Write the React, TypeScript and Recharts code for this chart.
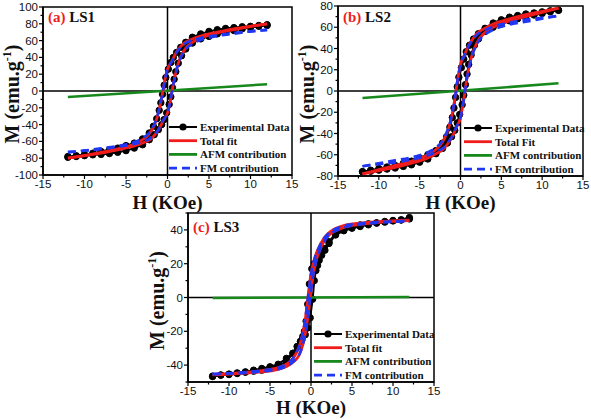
import React from 'react';
import { LineChart, Line, XAxis, YAxis, ReferenceLine, ReferenceArea } from 'recharts';

// field grids (kOe)
const EXP_H_UPPER = [-12, -11, -10, -9, -8, -7, -6, -5, -4, -3, -2.2, -1.7, -1.3, -1.0, -0.8, -0.6, -0.4, -0.2, 0.1, 0.4, 0.7, 1.1, 1.6, 2.2, 3, 4, 5, 6, 7, 8, 9, 10, 11, 12];
const EXP_H_LOWER = [-12, -11, -10, -9, -8, -7, -6, -5, -4, -3, -2.2, -1.6, -1.1, -0.7, -0.4, -0.1, 0.2, 0.4, 0.6, 0.8, 1.0, 1.3, 1.7, 2.2, 3, 4, 5, 6, 7, 8, 9, 10, 11, 12];
const FIT_H_UPPER = [-12, -10, -8, -6, -4, -3, -2.2, -1.7, -1.3, -1, -0.7, -0.5, -0.3, 0, 0.5, 1, 1.5, 2, 3, 4, 6, 8, 10, 12];
const FIT_H_LOWER = [-12, -10, -8, -6, -4, -3, -2, -1.5, -1, -0.5, 0, 0.3, 0.5, 0.7, 1, 1.3, 1.7, 2.2, 3, 4, 6, 8, 10, 12];
const AFM_H = [-12, 12];

// LS1
const LS1_EXP_UPPER = [-78, -77, -75.5, -74, -72, -70, -68, -65, -62, -57, -50, -42, -33, -23, -14, -4, 7, 16, 26, 34, 40, 46, 52, 58, 64, 68, 71, 73, 74.5, 75.5, 76.5, 77, 78, 79];
const LS1_EXP_LOWER = [-79, -78, -77, -76, -75.5, -74.5, -73, -71, -68, -64, -58, -52, -46, -40, -34, -26, -16, -7, 4, 14, 23, 33, 42, 50, 57, 62, 65, 68, 70, 72, 74, 75.5, 77, 78];
const LS1_FIT_UPPER = [-80, -77, -73, -69, -63, -58, -51, -43, -33, -22, -8, 3, 14, 26, 35, 45, 52, 57, 62, 65.5, 70, 74, 77, 80];
const LS1_FIT_LOWER = [-80, -77, -74, -70, -65.5, -62, -57, -52, -45, -35, -26, -14, -3, 8, 22, 33, 43, 51, 58, 63, 69, 73, 77, 80];
const LS1_FM_UPPER = [-72.8, -71, -68.2, -65.4, -60.6, -56.2, -49.7, -42, -32.2, -21.4, -7.6, 3.3, 14.2, 26, 34.7, 44.4, 51.1, 55.8, 60.2, 63.1, 66.4, 69.2, 71, 72.8];
const LS1_FM_LOWER = [-72.8, -71, -69.2, -66.4, -63.1, -60.2, -55.8, -51.1, -44.4, -34.7, -26, -14.2, -3.3, 7.6, 21.4, 32.2, 42, 49.7, 56.2, 60.6, 65.4, 68.2, 71, 72.8];
const LS1_AFM = [-7, 8];

// LS2
const LS2_EXP_UPPER = [-76, -74.5, -73, -71.5, -70, -68, -66, -63, -60, -56, -49, -43, -34, -25, -16, -6, 4, 13, 22, 30, 37, 43, 49, 54, 59, 64, 67, 69.5, 71, 72.5, 73.5, 74.5, 75.5, 76];
const LS2_EXP_LOWER = [-76, -75.5, -74.5, -73.5, -72.5, -71, -69.5, -67, -64, -59, -54, -49, -43, -37, -30, -22, -13, -4, 6, 16, 25, 34, 43, 49, 56, 60, 63, 66, 68, 70, 71.5, 73, 74.5, 76];
const LS2_FIT_UPPER = [-78, -74, -70, -66, -60, -55, -48, -40, -31, -21, -8, 3, 13, 25, 34, 43, 49, 54, 59, 63, 68, 72, 75, 78];
const LS2_FIT_LOWER = [-78, -75, -72, -68, -63, -59, -54, -49, -43, -34, -25, -13, -3, 8, 21, 31, 40, 48, 55, 60, 66, 70, 74, 78];
const LS2_FM_UPPER = [-70.8, -68, -65.2, -62.4, -57.6, -53.2, -46.7, -39, -30.2, -20.4, -7.6, 3.3, 13.2, 25, 33.7, 42.4, 48.1, 52.8, 57.2, 60.6, 64.4, 67.2, 69, 70.8];
const LS2_FM_LOWER = [-70.8, -69, -67.2, -64.4, -60.6, -57.2, -52.8, -48.1, -42.4, -33.7, -25, -13.2, -3.3, 7.6, 20.4, 30.2, 39, 46.7, 53.2, 57.6, 62.4, 65.2, 68, 70.8];
const LS2_AFM = [-6.6, 7.2];

// LS3
const LS3_EXP_UPPER = [-46.5, -45.8, -45.3, -44.6, -44, -43, -42, -41, -39.5, -36, -33, -29, -26, -23, -20, -14, -4, 8, 17, 20, 22, 25, 29, 33, 38, 40.7, 42, 43, 43.6, 44.2, 45, 45.6, 46, 47.3];
const LS3_EXP_LOWER = [-46.8, -46, -45.6, -45, -44.2, -43.6, -43, -42, -40.5, -38, -33, -29, -25, -22, -18, -12, -1, 10, 16, 19, 22, 25, 28, 32, 37, 39.5, 41, 42, 43, 44, 44.6, 45.3, 45.8, 46.5];
const LS3_FIT_UPPER = [-45.5, -45, -44.3, -43.3, -41.5, -39.5, -36, -32, -27, -21, -13, -5, 3, 14, 24, 30, 34.5, 37.5, 40.8, 42.5, 44, 44.8, 45.3, 45.8];
const LS3_FIT_LOWER = [-45.8, -45.3, -44.8, -44, -42.5, -40.8, -37.5, -34.5, -28, -16, 4, 14, 19, 23, 27, 30.5, 34, 37, 39.5, 41.5, 43.3, 44.3, 45, 45.5];
const LS3_FM_UPPER = [-45.2, -44.8, -44.1, -43.2, -41.4, -39.4, -35.9, -31.9, -27, -21, -13, -5, 3, 14, 24, 30, 34.5, 37.4, 40.7, 42.4, 43.8, 44.6, 45, 45.5];
const LS3_FM_LOWER = [-45.5, -45, -44.6, -43.8, -42.4, -40.7, -37.4, -34.5, -28, -16, 4, 14, 19, 23, 27, 30.5, 33.9, 36.9, 39.4, 41.4, 43.2, 44.1, 44.8, 45.2];
const LS3_AFM = [-0.3, 0.3];

const X_TICKS = [-15, -12.5, -10, -7.5, -5, -2.5, 0, 2.5, 5, 7.5, 10, 12.5, 15];
const Y_TICKS_100 = [-100, -90, -80, -70, -60, -50, -40, -30, -20, -10, 0, 10, 20, 30, 40, 50, 60, 70, 80, 90, 100];
const Y_TICKS_80 = [-80, -70, -60, -50, -40, -30, -20, -10, 0, 10, 20, 30, 40, 50, 60, 70, 80];
const Y_TICKS_50 = [-50, -40, -30, -20, -10, 0, 10, 20, 30, 40, 50];

const RED = '#f01c1c';
const BLUE = '#1f36f5';
const GREEN = '#17891c';
const SERIF = '"Liberation Serif", "Times New Roman", serif';
const SANS = '"Liberation Sans", Arial, sans-serif';

const zip = (h: number[], m: number[]) => h.map((v, i) => ({ h: v, m: m[i] }));

const XTick = (props: any) => {
  const { x, y, payload } = props;
  const major = payload.value % 5 === 0;
  const axisY = y - 6;
  return (
    <g>
      <line x1={x} x2={x} y1={axisY} y2={axisY + (major ? 4 : 2.5)} stroke="#000" strokeWidth={1.2} />
      {major && (
        <text x={x} y={axisY + 13} textAnchor="middle" fontFamily={SANS} fontSize={11.5} fill="#111">
          {payload.value}
        </text>
      )}
    </g>
  );
};

const makeYTick = (step: number) => (props: any) => {
  const { x, y, payload } = props;
  const major = payload.value % step === 0;
  const axisX = x + 6;
  return (
    <g>
      <line x1={axisX} x2={axisX - (major ? 4 : 2.5)} y1={y} y2={y} stroke="#000" strokeWidth={1.2} />
      {major && (
        <text x={axisX - 5} y={y + 4} textAnchor="end" fontFamily={SANS} fontSize={11.5} fill="#111">
          {payload.value}
        </text>
      )}
    </g>
  );
};

interface PanelProps {
  left: number;
  top: number;
  width: number;
  height: number;
  plot: { l: number; t: number; w: number; h: number };
  letter: string;
  name: string;
  fitName: string;
  yDomain: [number, number];
  yTicks: number[];
  yStep: number;
  titleY: number;
  expUpper: number[];
  expLower: number[];
  fitUpper: number[];
  fitLower: number[];
  fmUpper: number[];
  fmLower: number[];
  afm: number[];
}

const Panel: React.FC<PanelProps> = (p) => {
  const xAxisH = 30;
  const margin = {
    top: p.plot.t,
    left: 0,
    right: p.width - p.plot.l - p.plot.w,
    bottom: p.height - p.plot.t - p.plot.h - xAxisH,
  };
  // overlay chart: same plot box, hidden axes, so the fits sit above the data dots
  const overMargin = {
    top: p.plot.t,
    left: p.plot.l,
    right: p.width - p.plot.l - p.plot.w,
    bottom: p.height - p.plot.t - p.plot.h,
  };
  const cx = p.plot.l + p.plot.w / 2;
  const cy = p.plot.t + p.plot.h / 2 + 3;
  const legendRows = [
    { label: 'Experimental Data', color: '#000', dash: undefined as string | undefined, dot: true },
    { label: p.fitName, color: RED, dash: undefined, dot: false },
    { label: 'AFM contribution', color: GREEN, dash: undefined, dot: false },
    { label: 'FM contribution', color: BLUE, dash: '8 5', dot: false },
  ];
  const legendX = 169;
  const legendY0 = p.plot.t + p.plot.h - 48;

  return (
    <div style={{ position: 'absolute', left: p.left, top: p.top, width: p.width, height: p.height }}>
      <LineChart width={p.width} height={p.height} margin={margin}>
        <XAxis
          dataKey="h"
          type="number"
          domain={[-15, 15]}
          ticks={X_TICKS}
          interval={0}
          allowDataOverflow
          height={xAxisH}
          tickSize={4}
          tickMargin={2}
          tickLine={false}
          axisLine={{ stroke: '#000', strokeWidth: 1.5 }}
          tick={<XTick />}
        />
        <YAxis
          type="number"
          domain={p.yDomain}
          ticks={p.yTicks}
          interval={0}
          allowDataOverflow
          width={p.plot.l}
          tickSize={4}
          tickMargin={2}
          tickLine={false}
          axisLine={{ stroke: '#000', strokeWidth: 1.5 }}
          tick={makeYTick(p.yStep)}
        />
        <ReferenceArea x1={-15} x2={15} y1={p.yDomain[0]} y2={p.yDomain[1]} fill="none" stroke="#000" strokeWidth={1.5} />
        <ReferenceLine x={0} stroke="#000" strokeWidth={1.5} />
        <ReferenceLine y={0} stroke="#000" strokeWidth={1.5} />
        <Line data={zip(EXP_H_UPPER, p.expUpper)} dataKey="m" type="linear" stroke="#000" strokeWidth={2}
          dot={{ r: 3.2, fill: '#000', stroke: '#000', strokeWidth: 1 }} isAnimationActive={false} />
        <Line data={zip(EXP_H_LOWER, p.expLower)} dataKey="m" type="linear" stroke="#000" strokeWidth={2}
          dot={{ r: 3.2, fill: '#000', stroke: '#000', strokeWidth: 1 }} isAnimationActive={false} />
      </LineChart>
      <div style={{ position: 'absolute', left: 0, top: 0 }}>
        <LineChart width={p.width} height={p.height} margin={overMargin}>
          <XAxis dataKey="h" type="number" domain={[-15, 15]} allowDataOverflow hide />
          <YAxis type="number" domain={p.yDomain} allowDataOverflow hide />
          <Line data={zip(AFM_H, p.afm)} dataKey="m" type="linear" stroke={GREEN} strokeWidth={2.5} dot={false} isAnimationActive={false} />
          <Line data={zip(FIT_H_UPPER, p.fitUpper)} dataKey="m" type="monotone" stroke={RED} strokeWidth={2.8} dot={false} isAnimationActive={false} />
          <Line data={zip(FIT_H_LOWER, p.fitLower)} dataKey="m" type="monotone" stroke={RED} strokeWidth={2.8} dot={false} isAnimationActive={false} />
          <Line data={zip(FIT_H_UPPER, p.fmUpper)} dataKey="m" type="monotone" stroke={BLUE} strokeWidth={2.6} strokeDasharray="8 5" dot={false} isAnimationActive={false} />
          <Line data={zip(FIT_H_LOWER, p.fmLower)} dataKey="m" type="monotone" stroke={BLUE} strokeWidth={2.6} strokeDasharray="8 5" dot={false} isAnimationActive={false} />
        </LineChart>
      </div>
      <svg width={p.width} height={p.height} style={{ position: 'absolute', left: 0, top: 0, pointerEvents: 'none' }}>
        <text x={p.plot.l + 5} y={p.titleY} fontFamily={SERIF} fontWeight="bold" fontSize={15}>
          <tspan fill={RED}>({p.letter})</tspan>
          <tspan fill="#111"> {p.name}</tspan>
        </text>
        <text x={cx} y={p.height - 6} textAnchor="middle" fontFamily={SERIF} fontWeight="bold" fontSize={19} fill="#111">
          H (KOe)
        </text>
        <text transform={`translate(19, ${cy}) rotate(-90)`} textAnchor="middle" fontFamily={SERIF} fontWeight="bold" fontSize={20} fill="#111">
          <tspan>M (emu.g</tspan>
          <tspan dy={-8} fontSize={12}>-1</tspan>
          <tspan dy={8}>)</tspan>
        </text>
        {legendRows.map((r, i) => {
          const y = legendY0 + i * 13.7;
          return (
            <g key={r.label}>
              <line x1={legendX} x2={legendX + 28} y1={y} y2={y} stroke={r.color} strokeWidth={r.dot ? 2 : 2.8} strokeDasharray={r.dash} />
              {r.dot && <circle cx={legendX + 14} cy={y} r={3.6} fill="#000" />}
              <text x={legendX + 31} y={y + 4} fontFamily={SERIF} fontWeight="bold" fontSize={11} fill="#111">
                {r.label}
              </text>
            </g>
          );
        })}
      </svg>
    </div>
  );
};

export default function App() {
  return (
    <div style={{ position: 'absolute', left: 0, top: 0, width: 591, height: 420, background: '#fff', overflow: 'hidden' }}>
      <Panel
        left={0} top={0} width={300} height={215}
        plot={{ l: 43, t: 7, w: 249, h: 168 }}
        letter="a" name="LS1" fitName="Total fit" titleY={22}
        yDomain={[-100, 100]} yTicks={Y_TICKS_100} yStep={20}
        expUpper={LS1_EXP_UPPER} expLower={LS1_EXP_LOWER}
        fitUpper={LS1_FIT_UPPER} fitLower={LS1_FIT_LOWER}
        fmUpper={LS1_FM_UPPER} fmLower={LS1_FM_LOWER} afm={LS1_AFM}
      />
      <Panel
        left={295} top={0} width={296} height={215}
        plot={{ l: 43, t: 6, w: 245, h: 170 }}
        letter="b" name="LS2" fitName="Total Fit" titleY={22}
        yDomain={[-80, 80]} yTicks={Y_TICKS_80} yStep={20}
        expUpper={LS2_EXP_UPPER} expLower={LS2_EXP_LOWER}
        fitUpper={LS2_FIT_UPPER} fitLower={LS2_FIT_LOWER}
        fmUpper={LS2_FM_UPPER} fmLower={LS2_FM_LOWER} afm={LS2_AFM}
      />
      <Panel
        left={145} top={206} width={300} height={214}
        plot={{ l: 43, t: 7, w: 246, h: 169 }}
        letter="c" name="LS3" fitName="Total fit" titleY={26}
        yDomain={[-50, 50]} yTicks={Y_TICKS_50} yStep={20}
        expUpper={LS3_EXP_UPPER} expLower={LS3_EXP_LOWER}
        fitUpper={LS3_FIT_UPPER} fitLower={LS3_FIT_LOWER}
        fmUpper={LS3_FM_UPPER} fmLower={LS3_FM_LOWER} afm={LS3_AFM}
      />
    </div>
  );
}
